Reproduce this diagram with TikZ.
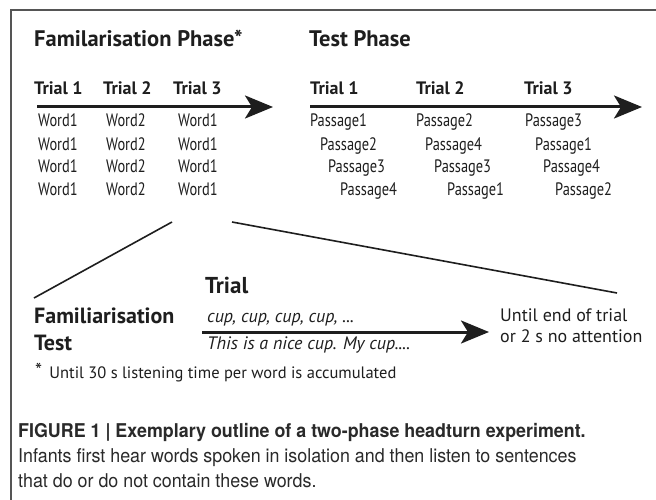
\documentclass[tikz,border=0pt]{standalone}
\usepackage{fontspec}
\setmainfont{PT Sans}
\newfontfamily\condfont[FakeStretch=0.8]{PT Sans}
\newfontfamily\capfont[FakeStretch=0.94]{TeX Gyre Heros}
\usetikzlibrary{arrows.meta}
\definecolor{ink}{HTML}{1E1E1E}
\definecolor{capink}{HTML}{2A2A2A}
\definecolor{framegray}{HTML}{555555}
\begin{document}
\begin{tikzpicture}[x=1pt,y=-1pt,
  every node/.style={inner sep=0pt, anchor=base west, text=ink},
  headf/.style={font=\fontsize{22.5}{27}\selectfont\bfseries},
  trialf/.style={font=\fontsize{18}{21}\selectfont\bfseries},
  itemf/.style={font=\condfont\fontsize{18}{20}\selectfont},
  bigtrialf/.style={font=\fontsize{23}{27}\selectfont\bfseries},
  labf/.style={font=\fontsize{22}{26}\selectfont\bfseries},
  cupf/.style={font=\fontsize{18}{21}\selectfont\itshape},
  notef/.style={font=\fontsize{18}{21}\selectfont},
  footf/.style={font=\fontsize{16.5}{20}\selectfont},
  capf/.style={font=\capfont\fontsize{19}{23}\selectfont, text=capink},
  bigarrow/.style={draw=ink, line width=3pt, -{Stealth[length=28pt,width=23pt,inset=7pt]}},
  thinline/.style={draw=ink, line width=1.6pt},
  framestyle/.style={draw=framegray, line width=1.5pt}]
\useasboundingbox (0,0) rectangle (656,500);
\fill[white] (0,0) rectangle (656,500);
\draw[framestyle] (11,500) -- (11,10) -- (656,10);

% headings
\node[headf] (famphase) at (34,47) {Familarisation Phase*};
\node[headf] (testphase) at (309,47) {Test Phase};

% familiarisation trials
\node[trialf] (ft1) at (34,95) {Trial 1};
\node[trialf] (ft2) at (103,95) {Trial 2};
\node[trialf] (ft3) at (173,95) {Trial 3};
\coordinate (fa0) at (37,107);
\coordinate (fa1) at (273,107);
\draw[bigarrow] (fa0) -- (fa1);

\foreach \y/\r in {127/1,150/2,172/3,195/4}{
  \node[itemf] (wa\r) at (38,\y) {Word1};
  \node[itemf] (wb\r) at (106,\y) {Word2};
  \node[itemf] (wc\r) at (178,\y) {Word1};
}

% test trials
\node[trialf] (tt1) at (310,95) {Trial 1};
\node[trialf] (tt2) at (416,95) {Trial 2};
\node[trialf] (tt3) at (524,95) {Trial 3};
\coordinate (ta0) at (310,107);
\coordinate (ta1) at (642,107);
\draw[bigarrow] (ta0) -- (ta1);

\node[itemf] (pa1) at (310,127) {Passage1};
\node[itemf] (pa2) at (320,150) {Passage2};
\node[itemf] (pa3) at (328,172) {Passage3};
\node[itemf] (pa4) at (340,195) {Passage4};
\node[itemf] (pb1) at (416,127) {Passage2};
\node[itemf] (pb2) at (425,150) {Passage4};
\node[itemf] (pb3) at (434,172) {Passage3};
\node[itemf] (pb4) at (447,195) {Passage1};
\node[itemf] (pc1) at (525,127) {Passage3};
\node[itemf] (pc2) at (535,150) {Passage1};
\node[itemf] (pc3) at (543,172) {Passage4};
\node[itemf] (pc4) at (555,195) {Passage2};

% zoom lines
\coordinate (zl0) at (34,298);
\coordinate (zl1) at (172,222);
\coordinate (zr0) at (232,222);
\coordinate (zr1) at (617,293);
\draw[thinline] (zl0) -- (zl1);
\draw[thinline] (zr0) -- (zr1);

% trial detail
\node[bigtrialf] (trial) at (205,293) {Trial};
\node[labf] (famlab) at (34,323) {Familiarisation};
\node[labf] (testlab) at (34,350) {Test};
\node[cupf] (cup1) at (207,322) {cup, cup, cup, cup, ...};
\node[cupf] (cup2) at (207,349) {This is a nice cup. My cup....};
\coordinate (da0) at (202,332);
\coordinate (da1) at (489,332);
\draw[bigarrow] (da0) -- (da1);
\node[notef] (until1) at (500,321) {Until end of trial};
\node[notef] (until2) at (500,342) {or 2 s no attention};
\node[footf] (foot) at (35,378) {\raisebox{1pt}{\fontsize{20}{20}\selectfont *}\, Until 30 s listening time per word is accumulated};

% caption
\node[capf, font=\capfont\bfseries\fontsize{19}{23}\selectfont] (cap1) at (18,437) {FIGURE 1 | Exemplary outline of a two-phase headturn experiment.};
\node[capf] (cap2) at (18,462) {Infants first hear words spoken in isolation and then listen to sentences};
\node[capf] (cap3) at (18,487) {that do or do not contain these words.};
\end{tikzpicture}
\end{document}
